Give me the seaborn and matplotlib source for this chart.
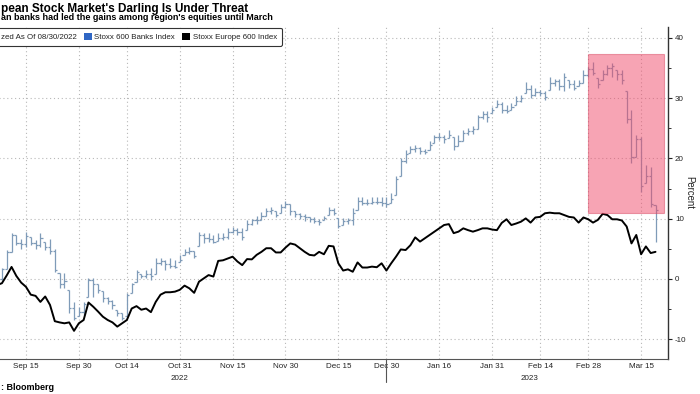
import numpy as np
import pandas as pd
import matplotlib
matplotlib.use("Agg")
import matplotlib.pyplot as plt
import seaborn as sns
from matplotlib.patches import Rectangle, Patch
from matplotlib.ticker import MultipleLocator
from matplotlib.transforms import blended_transform_factory
from matplotlib.lines import Line2D

# ---------------- text (as visible in the cropped reference) ----------------
TITLE = "pean Stock Market's Darling Is Under Threat"
SUBTITLE = "an banks had led the gains among region's equities until March"
SOURCE = ": Bloomberg"
LEGEND_LABELS = ["zed As Of 08/30/2022", "Stoxx 600 Banks Index", "Stoxx Europe 600 Index"]
Y_LABEL = "Percent"

# ---------------- data ----------------
# trading days (Stoxx closed on Boxing Day 2022)
trading_days = [d for d in pd.bdate_range("2022-08-30", "2023-03-20")
                if d != pd.Timestamp("2022-12-26")]

tick_dates = ["2022-09-15", "2022-09-30", "2022-10-14", "2022-10-31", "2022-11-15",
              "2022-11-30", "2022-12-15", "2022-12-30", "2023-01-16", "2023-01-31",
              "2023-02-14", "2023-02-28", "2023-03-15"]
tick_labels = ["Sep 15", "Sep 30", "Oct 14", "Oct 31", "Nov 15", "Nov 30", "Dec 15",
               "Dec 30", "Jan 16", "Jan 31", "Feb 14", "Feb 28", "Mar 15"]
year_labels = ["2022", "2023"]
y_ticks = [-10, 0, 10, 20, 30, 40]

# Stoxx Europe 600, % change since 08/30/2022
stoxx600 = [0.0, -0.6, -1.4, -0.4, -1.2, -0.6, -1.0, -0.7, 0.6, 2.0,
            0.5, -0.6, -1.3, -2.6, -2.8, -3.8, -2.9, -4.3, -7.0, -7.2,
            -7.35, -7.2, -8.6, -7.35, -6.8, -3.9, -4.6, -5.4, -6.25, -6.8,
            -7.2, -7.9, -7.35, -6.8, -4.9, -4.5, -5.1, -4.9, -5.5, -3.8,
            -2.6, -2.2, -2.2, -2.1, -1.8, -1.1, -1.55, -2.3, -0.45, 0.1,
            0.65, 0.4, 3.0, 3.1, 3.4, 3.7, 2.9, 2.3, 3.3, 3.25,
            4.0, 4.5, 5.1, 5.1, 4.4, 4.4, 5.2, 5.9, 5.7, 5.1,
            4.5, 4.0, 3.9, 4.5, 4.1, 5.5, 5.4, 2.6, 1.4, 1.6,
            1.2, 2.75, 1.9, 1.9, 2.05, 1.95, 2.6, 1.4, 2.6, 3.7,
            4.9, 4.8, 5.6, 6.9, 6.2, 6.75, 7.3, 7.85, 8.4, 8.95,
            9.1, 7.6, 7.85, 8.4, 8.1, 7.85, 8.1, 8.4, 8.4, 8.2,
            8.1, 9.3, 9.9, 8.95, 9.2, 9.5, 10.05, 9.35, 10.2, 10.3,
            10.9, 11.0, 10.9, 10.9, 10.6, 10.3, 10.2, 9.35, 10.2, 9.9,
            9.35, 9.8, 10.8, 10.6, 9.9, 9.9, 9.7, 8.7, 5.9, 7.3,
            4.1, 5.4, 4.3, 4.5]

# Stoxx 600 Banks, % change since 08/30/2022 (daily low / high / close)
banks_low = [-0.3, -0.8, -1.3, -1.0, -0.6, -0.4, -0.3, -0.2, 1.6, 4.5,
             5.6, 5.0, 5.3, 5.6, 5.0, 5.3, 4.8, 4.2, 1.2, -1.55,
             -1.55, -5.7, -6.8, -6.2, -6.0, -3.0, -3.0, -2.3, -3.8, -4.1,
             -4.9, -6.2, -6.8, -6.2, -2.4, -0.5, 0.1, 0.1, -0.2, 0.9,
             2.3, 1.5, 1.8, 1.8, 2.8, 3.9, 4.2, 3.5, 5.4, 6.0,
             6.2, 5.9, 6.3, 6.5, 6.7, 7.6, 7.3, 6.5, 8.2, 9.0,
             9.2, 9.7, 10.5, 10.8, 10.2, 11.0, 11.8, 10.6, 10.2, 9.9,
             9.6, 9.4, 9.3, 9.0, 9.7, 10.6, 10.6, 8.4, 8.9, 9.2,
             9.0, 11.4, 12.3, 12.3, 12.4, 12.4, 12.1, 12.0, 12.6, 13.9,
             17.0, 19.2, 20.9, 21.0, 20.8, 20.8, 21.4, 22.5, 23.0, 22.6,
             23.3, 21.4, 22.0, 22.9, 23.8, 24.0, 24.9, 26.6, 26.1, 27.5,
             28.6, 27.5, 27.6, 28.0, 28.9, 29.4, 30.8, 30.0, 30.3, 30.3,
             29.7, 31.3, 32.0, 31.3, 31.1, 31.6, 31.3, 32.0, 32.5, 33.5,
             33.8, 31.6, 33.0, 33.8, 33.5, 33.0, 32.4, 25.8, 19.2, 20.3,
             14.5, 15.9, 12.0, 6.2]
banks_high = [0.3, 0.2, -0.3, 0.5, 0.6, 0.8, 0.6, 1.8, 4.8, 7.6,
              7.3, 6.7, 7.8, 6.9, 6.4, 7.6, 6.1, 6.7, 5.0, 0.94,
              0.94, -1.8, -3.8, -4.6, -3.8, 0.1, 0.1, -0.9, -2.0, -3.0,
              -3.5, -5.1, -5.7, -2.4, -0.7, 1.5, 0.9, 1.5, 1.8, 3.4,
              3.4, 3.2, 3.4, 3.2, 3.9, 5.0, 5.3, 4.7, 7.8, 7.6,
              7.6, 7.3, 7.6, 7.6, 8.4, 8.6, 8.4, 8.4, 9.8, 10.0,
              10.5, 11.1, 11.7, 11.9, 11.3, 12.4, 13.0, 12.5, 11.3, 11.0,
              10.7, 10.2, 10.2, 9.9, 10.5, 12.0, 11.7, 10.1, 10.1, 10.1,
              11.7, 13.6, 13.6, 13.3, 13.6, 13.6, 13.6, 13.6, 14.2, 17.0,
              20.0, 21.4, 22.0, 22.3, 21.9, 21.6, 22.9, 23.9, 24.2, 23.9,
              24.7, 23.6, 23.9, 24.7, 25.0, 25.3, 27.2, 27.8, 27.8, 28.6,
              29.7, 29.4, 28.9, 29.2, 30.3, 30.5, 32.7, 32.2, 31.6, 31.3,
              31.1, 33.5, 33.2, 33.2, 34.2, 33.0, 33.0, 33.0, 34.7, 35.2,
              36.0, 33.3, 34.7, 35.5, 35.8, 34.7, 34.7, 31.1, 28.0, 23.9,
              23.6, 18.9, 18.6, 12.3]
banks_close = [0.0, -0.5, -1.0, 0.3, -0.3, 0.5, 0.0, 1.6, 4.5, 7.3,
               6.0, 5.8, 7.2, 5.9, 5.6, 6.8, 5.3, 4.6, 1.5, -0.8,
               -0.4, -4.8, -6.4, -5.4, -4.2, -0.1, -0.9, -1.8, -3.1, -3.6,
               -4.3, -5.6, -6.5, -2.7, -0.9, 1.2, 0.5, 0.9, 0.5, 2.7,
               2.9, 2.5, 2.2, 2.0, 3.2, 4.5, 4.6, 3.8, 7.3, 6.8,
               6.6, 6.2, 6.8, 6.9, 7.8, 8.2, 7.8, 7.0, 9.2, 9.7,
               9.8, 10.5, 11.3, 11.5, 10.6, 11.9, 12.4, 11.2, 10.8, 10.5,
               10.2, 9.9, 9.6, 9.4, 10.1, 11.5, 11.0, 8.8, 9.6, 9.7,
               11.0, 13.0, 12.6, 12.6, 12.8, 12.7, 12.6, 12.4, 13.2, 16.5,
               19.5, 20.8, 21.5, 21.8, 21.3, 21.0, 22.3, 23.6, 23.6, 23.2,
               23.9, 22.0, 22.9, 24.2, 24.6, 24.9, 26.8, 27.3, 26.8, 28.1,
               29.0, 28.0, 27.9, 28.5, 29.6, 30.0, 31.5, 30.5, 31.0, 30.8,
               30.2, 32.5, 32.8, 32.0, 33.5, 32.3, 31.6, 32.5, 33.8, 34.8,
               34.2, 32.3, 34.0, 35.0, 35.3, 34.0, 33.0, 26.5, 20.3, 23.2,
               15.5, 17.0, 12.5, 11.5]

highlight_start = "2023-02-28"
highlight_y = (10.9, 37.3)

# ---------------- style ----------------
sns.set_style("white")
plt.rcParams["font.family"] = ["Liberation Sans", "DejaVu Sans"]

BAR_COLOR = "#7f9bb8"
LEGEND_BLUE = "#2f66c4"
TEXT = "#222222"
GRID = "#b8b8b8"

fig = plt.figure(figsize=(7.0, 3.94), dpi=100)
W, H = 700.0, 394.0
x_min, x_max = -1.0, 145.6
left_px, right_px, top_px, bottom_px = -36.5, 668.0, 27.0, 359.0
ax = fig.add_axes([left_px / W, 1 - bottom_px / H,
                   (right_px - left_px) / W, (bottom_px - top_px) / H])

idx = np.arange(len(trading_days))
df = pd.DataFrame({"i": idx, "stoxx": stoxx600})
date_pos = {d.strftime("%Y-%m-%d"): i for i, d in enumerate(trading_days)}

# OHLC bars for the banks index
low = np.array(banks_low)
high = np.array(banks_high)
close = np.array(banks_close)
opens = np.clip(np.r_[close[0], close[:-1]], low, high)
ax.vlines(idx, low, high, color=BAR_COLOR, lw=0.9, zorder=2)
ax.hlines(close, idx, idx + 0.45, color=BAR_COLOR, lw=0.9, zorder=2)
ax.hlines(opens, idx - 0.45, idx, color=BAR_COLOR, lw=0.9, zorder=2)

# Stoxx Europe 600 line
sns.lineplot(data=df, x="i", y="stoxx", color="black", lw=1.4, ax=ax, zorder=3)

# highlight box
hx0 = date_pos[highlight_start]
hx1 = len(trading_days) + 0.8
ax.add_patch(Rectangle((hx0, highlight_y[0]), hx1 - hx0, highlight_y[1] - highlight_y[0],
                       facecolor="#f04a6a", alpha=0.5, edgecolor="#d94863", lw=0.8, zorder=4))

ax.set_xlim(x_min, x_max)
ax.set_ylim(-13.27, 41.79)

# axes styling
for s in ["top", "left"]:
    ax.spines[s].set_visible(False)
ax.spines["right"].set_color("#333333")
ax.spines["right"].set_linewidth(1.0)
ax.spines["bottom"].set_color("#555555")
ax.spines["bottom"].set_linewidth(0.8)

ax.yaxis.tick_right()
ax.yaxis.set_label_position("right")
ax.set_yticks(y_ticks)
ax.set_yticklabels([str(v) for v in y_ticks])
ax.yaxis.set_minor_locator(MultipleLocator(5))
ax.tick_params(axis="y", which="major", length=3, width=0.8, pad=2,
               labelsize=5.8, colors=TEXT, direction="out")
ax.tick_params(axis="y", which="minor", length=2, width=0.7, color="#333333", direction="out")

tick_pos = [date_pos[d] for d in tick_dates]
ax.set_xticks(tick_pos)
ax.set_xticklabels(tick_labels)
minor_pos = [tick_pos[0] - (tick_pos[1] - tick_pos[0]) / 2] + \
            [(a + b) / 2 for a, b in zip(tick_pos[:-1], tick_pos[1:])]
ax.set_xticks(minor_pos, minor=True)
ax.tick_params(axis="x", which="major", length=0, pad=3, labelsize=5.8, colors=TEXT)
ax.tick_params(axis="x", which="minor", length=3, width=0.7, color="#555555", direction="out")

ax.grid(True, which="major", axis="both", color=GRID, linestyle=(0, (1, 2.5)), linewidth=0.8)
ax.set_xlabel("")
ax.set_ylabel(Y_LABEL, rotation=270, fontsize=6.9, color=TEXT)
ax.yaxis.set_label_coords((694 - left_px) / (right_px - left_px), 0.5)

# year labels and separator
trans = blended_transform_factory(ax.transData, ax.transAxes)
year_start = [i for i, d in enumerate(trading_days) if d.year == 2023][0]
yr_y = (bottom_px - 378) / (bottom_px - top_px)
ax.text(year_start / 2, yr_y, year_labels[0], transform=trans, ha="center", va="center",
        fontsize=5.8, color=TEXT)
ax.text((year_start + x_max) / 2, yr_y, year_labels[1], transform=trans, ha="center",
        va="center", fontsize=5.8, color=TEXT)
ax.add_line(Line2D([year_start - 1, year_start - 1], [0, (bottom_px - 382) / (bottom_px - top_px)],
                   transform=trans, color="#555555", lw=0.8, clip_on=False))

# legend
handles = [Patch(facecolor="none", edgecolor="none"),
           Patch(facecolor=LEGEND_BLUE, edgecolor="none"),
           Patch(facecolor="black", edgecolor="none")]
leg = fig.legend(handles, LEGEND_LABELS, loc="upper right",
                 bbox_to_anchor=(282 / W, 1 - 27.5 / H), ncol=3, fontsize=5.7,
                 frameon=True, fancybox=True, framealpha=1, edgecolor="#333333",
                 handlelength=1.0, handleheight=1.0, handletextpad=0.3,
                 columnspacing=0.9, borderpad=0.65, borderaxespad=0)
leg.get_frame().set_linewidth(0.8)
for t in leg.get_texts():
    t.set_color(TEXT)

# titles and source
fig.text(0.8 / W, 1 - 12 / H, TITLE, ha="left", va="baseline", fontsize=8.5,
         fontweight="bold", color="black")
fig.text(0.8 / W, 1 - 20.5 / H, SUBTITLE, ha="left", va="baseline", fontsize=6.45,
         fontweight="bold", color="black")
fig.text(0.8 / W, 1 - 390 / H, SOURCE, ha="left", va="baseline", fontsize=6.5,
         fontweight="bold", color="black")

fig.savefig("out.png", dpi=100)
